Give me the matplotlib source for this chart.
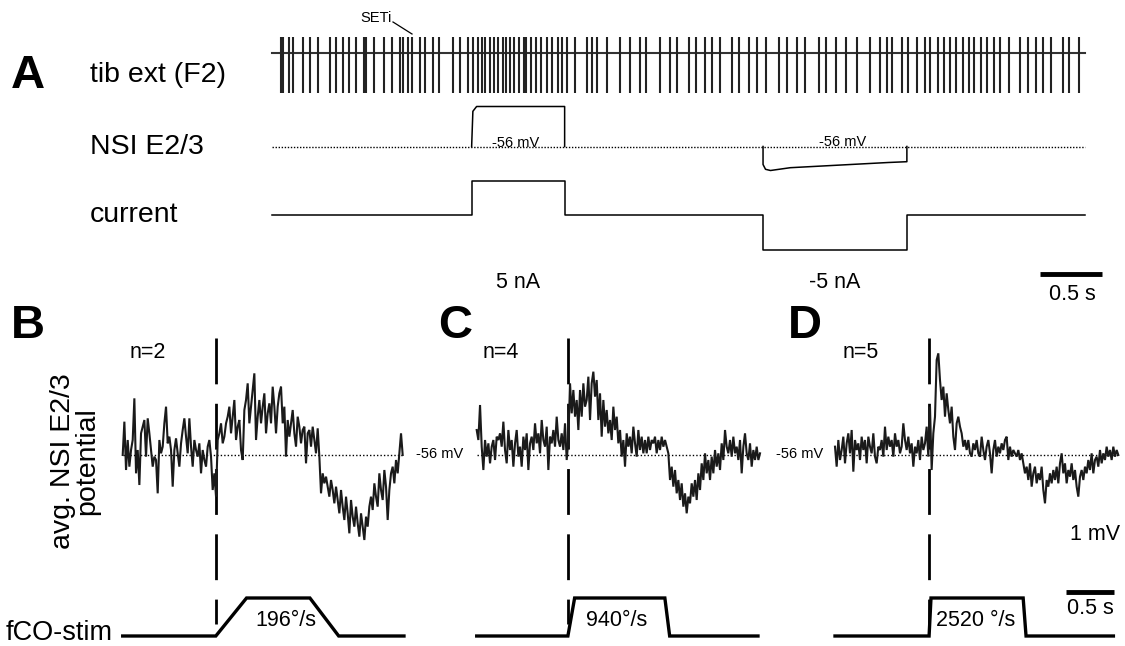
import numpy as np
import matplotlib
matplotlib.use("Agg")
import matplotlib.pyplot as plt
from matplotlib.transforms import blended_transform_factory

plt.rcParams['font.family'] = ['Liberation Sans', 'DejaVu Sans']
plt.rcParams['lines.scale_dashes'] = False

# ---------------- data ----------------
# Panel A: spike times of tib ext (F2) recording (s)
spike_times = [0.07, 0.09, 0.14, 0.17, 0.25, 0.31, 0.37, 0.47, 0.52, 0.57, 0.62, 0.68, 0.74,
               0.76, 0.82, 0.90, 0.97, 1.03, 1.06, 1.10, 1.13, 1.19, 1.23, 1.30, 1.35, 1.46,
               1.52, 1.58, 1.62, 1.66, 1.69, 1.72, 1.76, 1.79, 1.82, 1.86, 1.89, 1.92, 1.95,
               1.99, 2.03, 2.05, 2.09, 2.13, 2.17, 2.22, 2.26, 2.31, 2.34, 2.38, 2.44, 2.54,
               2.58, 2.62, 2.70, 2.81, 2.89, 2.97, 3.02, 3.13, 3.21, 3.27, 3.36, 3.42, 3.49,
               3.55, 3.61, 3.71, 3.77, 3.85, 3.91, 3.98, 4.09, 4.15, 4.23, 4.30, 4.41, 4.47,
               4.55, 4.63, 4.72, 4.82, 4.90, 4.96, 5.00, 5.08, 5.13, 5.20, 5.27, 5.31, 5.37,
               5.42, 5.47, 5.52, 5.57, 5.62, 5.66, 5.72, 5.77, 5.82, 5.87, 5.94, 6.03, 6.10,
               6.16, 6.22, 6.28, 6.38, 6.43, 6.51]
spike_up, spike_down = 0.4, -1.0
trace_A_end = 6.56
rest_mV = -56

# NSI E2/3 membrane potential during current pulses (s, mV)
nsi_pos_t = [1.61, 1.62, 1.65, 2.36, 2.36]
nsi_pos_v = [-56, -47.2, -46, -46, -56]
nsi_neg_t = [3.96, 3.96, 3.98, 4.02, 4.18, 4.97, 5.12, 5.12]
nsi_neg_v = [-56, -60.5, -61.7, -62, -61.3, -60, -59.8, -56]

# injected current (s, nA)
cur_t = [0.0, 1.61, 1.61, 2.36, 2.36, 3.96, 3.96, 5.12, 5.12, 6.56]
cur_i = [0, 0, 5, 5, 0, 0, -5, -5, 0, 0]

# Panels B-D: averaged NSI potential, deviation from -56 mV (mV), sampled every DT s
DT = 0.01736
avg_B = [0.00, 1.00, -0.45, 0.45, -0.35, 0.15, 0.45, 1.70, -0.55, 0.15, -0.90, 0.65, 0.85,
         1.05, -0.05, 1.10, 0.65, 0.15, -0.35, -0.05, -0.15, -1.15, 0.45, 0.05, 0.25, 0.95,
         1.45, 0.35, 0.55, 0.15, -0.95, 0.15, 0.50, 0.05, -0.35, 0.35, 0.75, 1.10, 0.55,
         0.05, 1.10, 0.25, -0.35, 0.45, 0.15, -0.05, 0.35, -0.55, 0.15, -0.15, -0.35, 0.25,
         0.45, -0.05, -1.05, -0.55, -1.25, 0.45, 0.65, 0.95, 0.35, 0.55, 0.95, 1.15, 1.45,
         0.65, 1.15, 1.65, 0.45, 0.85, 1.05, 0.15, -0.15, 1.35, 1.65, 2.15, 0.95, 1.45, 1.95,
         2.45, 0.45, 1.15, 1.65, 0.95, 1.45, 1.85, 0.65, 1.25, 1.55, 0.95, 2.05, 1.45, 0.65,
         1.45, 1.85, 2.05, 0.95, 1.45, -0.05, 1.05, 0.55, 0.95, 1.35, 0.65, 0.25, 1.15, 0.85,
         0.35, 0.75, 0.85, -0.25, 0.65, 0.75, 0.25, 0.85, 0.45, 0.05, 0.80, -0.05, -1.15,
         -0.55, -0.85, -0.65, -0.95, -1.25, -0.75, -1.05, -1.45, -0.95, -1.35, -1.75, -1.05,
         -1.55, -1.95, -1.25, -1.75, -2.35, -1.35, -1.85, -2.15, -1.55, -2.05, -2.45, -1.75,
         -2.15, -2.55, -1.85, -2.15, -1.55, -1.25, -1.65, -0.85, -1.25, -1.55, -0.55, -1.05,
         -1.35, -0.45, -0.95, -1.95, -1.05, -0.55, -0.35, -0.85, -0.15, -0.55, 0.05, 0.65,
         0.00]
avg_C = [0.75, 0.45, 1.50, 0.25, -0.45, 0.45, -0.05, 0.35, -0.25, 0.25, 0.45, -0.15, 0.55,
         0.45, 0.65, 0.25, 1.00, 0.15, -0.25, 0.75, 0.15, 0.45, -0.35, 0.35, 0.75, -0.05,
         0.25, -0.35, 0.55, 0.15, 0.65, -0.45, 0.35, 0.55, 0.15, 0.95, 0.35, 0.65, 0.05,
         1.05, 0.45, 0.25, 0.85, -0.45, 0.55, 0.35, 0.75, 0.25, 1.15, 0.45, 0.25, 0.65, 0.15,
         0.95, -0.15, 0.45, 2.15, 1.25, 1.95, 1.15, 1.65, 0.75, 1.95, 1.15, 2.15, 1.45, 1.65,
         2.35, 1.05, 2.15, 2.50, 1.75, 2.25, 1.05, 1.85, 0.55, 1.65, 0.85, 1.35, 0.65, 1.05,
         0.45, 1.45, 0.75, 1.15, 0.35, 0.75, -0.05, 0.45, -0.35, 0.65, 0.25, 0.55, 0.05, 0.85,
         0.35, -0.05, 0.75, 0.15, 0.55, 0.05, 0.45, 0.05, 0.55, 0.15, 0.45, 0.35, 0.55, 0.05,
         0.45, 0.15, 0.55, 0.25, 0.45, 0.25, 0.05, -0.75, -0.35, -0.95, -0.45, -1.15, -0.75,
         -1.35, -0.85, -1.55, -1.15, -1.75, -1.25, -1.45, -0.85, -1.25, -0.75, -1.35, -0.55,
         -1.05, -0.25, -0.75, 0.05, -0.55, -0.15, -0.75, -0.05, -0.55, 0.15, -0.35, 0.05,
         -0.45, 0.35, -0.15, 0.75, 0.25, 0.05, 0.45, -0.05, 0.55, 0.05, 0.25, -0.15, 0.45,
         -0.55, 0.25, 0.65, 0.05, -0.15, 0.35, -0.35, 0.15, -0.15, 0.25, -0.15, 0.05]
avg_D = [0.25, -0.35, 0.45, -0.15, 0.15, 0.55, -0.25, 0.35, 0.65, 0.05, 0.75, -0.50, 0.45,
         0.15, 0.35, -0.15, 0.55, 0.15, 0.45, -0.25, 0.55, 0.25, 0.05, 0.65, -0.05, -0.25,
         0.25, 0.15, 0.45, -0.05, 0.85, 0.15, 0.55, 0.25, 0.45, -0.05, 0.65, 0.25, 0.45, 0.05,
         0.25, 0.95, 0.45, 0.15, 0.55, 0.05, 0.35, -0.35, 0.25, 0.05, 0.45, -0.15, 0.55, 0.15,
         0.35, 0.85, -0.05, 1.45, -0.45, 0.65, 1.15, 2.85, 3.05, 2.25, 1.65, 2.05, 1.15, 1.85,
         1.35, 0.95, 1.45, 0.55, 0.15, 0.95, 1.15, 0.85, 0.65, 0.25, 0.45, 0.15, 0.45, 0.05,
         -0.05, 0.35, 0.15, 0.45, 0.05, -0.05, 0.55, 0.15, -0.15, 0.25, 0.45, 0.05, -0.55,
         0.15, 0.45, -0.05, 0.25, 0.05, 0.35, 0.15, 0.45, 0.55, -0.15, 0.25, -0.05, 0.15, 0.05,
         -0.05, 0.15, -0.15, 0.05, -0.25, -0.55, -0.35, -0.75, -0.25, -0.95, -0.55, -0.35,
         -0.85, -0.55, -0.75, -0.35, -1.05, -1.45, -0.75, -0.95, -0.55, -0.85, -0.45, -0.75,
         -0.35, -0.85, -0.25, 0.05, -0.55, -0.25, -0.85, -0.45, -0.65, -0.25, -0.75, -0.45,
         -0.95, -1.25, -0.65, -0.45, -0.75, -0.35, -0.55, -0.15, -0.45, 0.05, -0.55, -0.15,
         -0.05, -0.35, 0.15, -0.25, 0.05, -0.15, 0.25, -0.05, 0.15, -0.15, 0.25, -0.05, 0.15,
         0.00]

# fCO stimulus (time s, relative position 0..1)
stim_B_t = [0.0, 0.97, 1.29, 1.95, 2.25, 2.93]
stim_C_t = [0.0, 0.95, 1.02, 1.96, 2.01, 2.93]
stim_D_t = [0.0, 0.98, 1.00, 1.96, 1.99, 2.90]
stim_pos = [0, 0, 1, 1, 0, 0]
panel_n = ["n=2", "n=4", "n=5"]
panel_vel = ["196°/s", "940°/s", "2520 °/s"]

# ---------------- layout helpers ----------------
W, H = 1125, 646
fig = plt.figure(figsize=(W / 100, H / 100), dpi=100)

ov = fig.add_axes([0, 0, 1, 1])
ov.set_xlim(0, W)
ov.set_ylim(H, 0)
ov.axis('off')


def data_axes(x0, x1, y0, y1, t0_px, sx, v_ref, vref_px, sy):
    ax = fig.add_axes([x0 / W, 1 - y1 / H, (x1 - x0) / W, (y1 - y0) / H])
    ax.set_xlim((x0 - t0_px) / sx, (x1 - t0_px) / sx)
    ax.set_ylim(v_ref + (vref_px - y1) / sy, v_ref + (vref_px - y0) / sy)
    ax.axis('off')
    return ax


K = 'black'
LS = 20.5

# ---------------- panel A ----------------
SXA = 124.0
ax_sp = data_axes(260, 1110, 20, 100, 272, SXA, 0, 53, 40)
ax_sp.plot([0, trace_A_end], [0, 0], color='#333333', lw=1.5)
ax_sp.vlines(spike_times, spike_down, spike_up, color='#222222', lw=1.5)

ax_nsi = data_axes(260, 1110, 100, 180, 272, SXA, rest_mV, 146.5, 4.0)
ax_nsi.plot([0, trace_A_end], [rest_mV, rest_mV], color=K, lw=1.0, ls=(0, (1, 1.2)))
ax_nsi.plot(nsi_pos_t, nsi_pos_v, color=K, lw=1.1)
ax_nsi.plot(nsi_neg_t, nsi_neg_v, color=K, lw=1.1)

ax_cur = data_axes(260, 1110, 170, 300, 272, SXA, 0, 215, 6.9)
ax_cur.plot(cur_t, cur_i, color=K, lw=1.1)
sb0 = (1040 - 272) / SXA
ax_cur.plot([sb0, sb0 + 0.5], [-8.6, -8.6], color=K, lw=3.5, solid_capstyle='butt')

ov.text(28, 76, "A", fontsize=34, fontweight='bold', ha='center', va='center')
ov.text(90, 75, "tib ext (F2)", fontsize=LS, ha='left', va='center')
ov.text(90, 147, "NSI E2/3", fontsize=LS, ha='left', va='center')
ov.text(90, 215, "current", fontsize=LS, ha='left', va='center')
ov.text(376, 18, "SETi", fontsize=10.5, ha='center', va='center')
ov.plot([393, 412], [22, 34], color=K, lw=0.9)
ov.text(516, 143, "-56 mV", fontsize=10.5, ha='center', va='center',
        bbox=dict(facecolor='white', edgecolor='none', pad=1))
ov.text(843, 142, "-56 mV", fontsize=10.5, ha='center', va='center')
ov.text(518, 282, "5 nA", fontsize=15.5, ha='center', va='center')
ov.text(835, 282, "-5 nA", fontsize=15.5, ha='center', va='center')
ov.text(1072, 294, "0.5 s", fontsize=15.5, ha='center', va='center')

# ---------------- panels B-D ----------------
SX, SY = 96.0, 33.33
panels = [
    ("B", 28, 122.7, avg_B, stim_B_t, 148, 440, 286),
    ("C", 455, 476.7, avg_C, stim_C_t, 501, 800, 617),
    ("D", 805, 835.0, avg_D, stim_D_t, 861, None, 976),
]
for i, (lab, lab_x, x0, avg, st_t, nx, reflab_x, vel_x) in enumerate(panels):
    ax = data_axes(x0 - 10, x0 + 300, 330, 560, x0, SX, 0, 455, SY)
    t = np.arange(len(avg)) * DT
    ax.plot([0, t[-1]], [0, 0], color=K, lw=1.0, ls=(0, (1, 1.5)))
    ax.plot(t, avg, color='#1a1a1a', lw=1.5, solid_joinstyle='miter')
    # stimulus
    axs = data_axes(x0 - 10, x0 + 300, 560, 646, x0, SX, 0, 636, 38)
    axs.plot(st_t, stim_pos, color=K, lw=2.4, solid_joinstyle='miter')
    # dashed onset line
    tr = blended_transform_factory(ax.transData, ov.transData)
    ov.plot([st_t[1], st_t[1]], [338, 624], transform=tr, color=K, lw=2.0,
            ls=(0, (33, 14)))
    ov.text(lab_x, 326, lab, fontsize=34, fontweight='bold', ha='center', va='center')
    ov.text(nx, 352, panel_n[i], fontsize=15.5, ha='center', va='center')
    if reflab_x is not None:
        ov.text(reflab_x, 454, "-56 mV", fontsize=10.5, ha='center', va='center')
    ov.text(vel_x, 621, panel_vel[i], fontsize=15.5, ha='center', va='center')

ov.text(75, 461, "avg. NSI E2/3\npotential", fontsize=LS, rotation=90,
        ha='center', va='center', linespacing=0.92)
ov.text(6, 633, "fCO-stim", fontsize=19.5, ha='left', va='center')
ov.text(1095, 534, "1 mV", fontsize=15.5, ha='center', va='center')
ov.plot([1066, 1114], [592, 592], color=K, lw=3.5, solid_capstyle='butt')
ov.text(1090, 609, "0.5 s", fontsize=15.5, ha='center', va='center')

fig.savefig("out.png", dpi=100)
